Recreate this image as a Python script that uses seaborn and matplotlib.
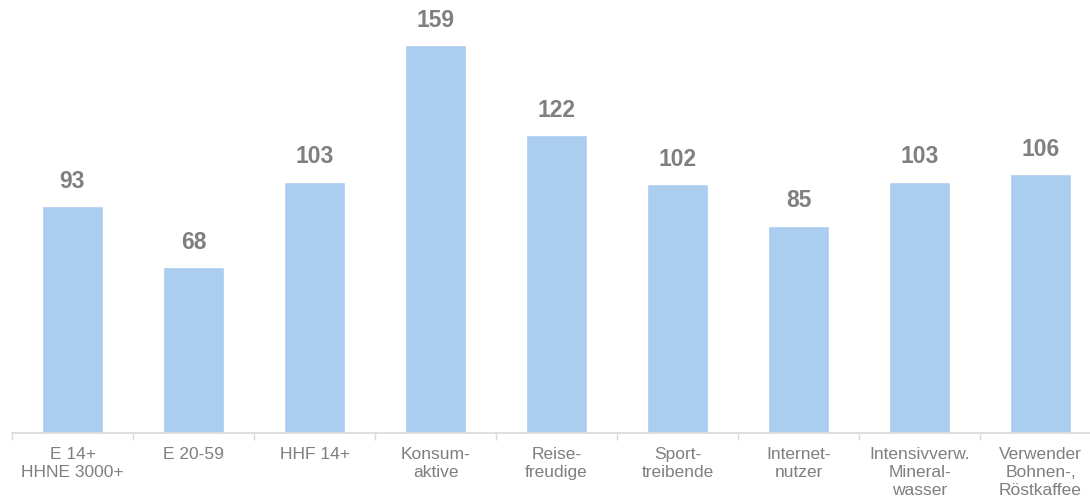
import matplotlib
matplotlib.use("Agg")
import matplotlib.pyplot as plt
import seaborn as sns
import pandas as pd
import numpy as np

# --- DATA ---
categories = [
    "E 14+\nHHNE 3000+", "E 20-59", "HHF 14+", "Konsum-\naktive", "Reise-\nfreudige",
    "Sport-\ntreibende", "Internet-\nnutzer", "Intensivverw.\nMineral-\nwasser",
    "Verwender\nBohnen-,\nRöstkaffee",
]
values = [93, 68, 103, 159, 122, 102, 85, 103, 106]

df = pd.DataFrame({"cat": categories, "val": values})

sns.set_style("white")
plt.rcParams['font.family'] = ['Liberation Sans', 'DejaVu Sans']

fig = plt.figure(figsize=(10.9, 5.04), dpi=100)
ax = fig.add_axes([12 / 1090, 71 / 504, 1089 / 1090, 433 / 504])

sns.barplot(data=df, x="cat", y="val", color="#ABCDEF", saturation=1,
            width=0.5, ax=ax)

for i, v in enumerate(values):
    ax.text(i, v + 5.5, str(v), ha="center", va="bottom", fontsize=16.5,
            fontweight="bold", color="#7F7F7F")

ax.set_xlim(-0.5, len(categories) - 0.5)
ax.set_ylim(0, 177.5)
ax.set_xlabel("")
ax.set_ylabel("")
ax.set_yticks([])

for s in ["top", "right", "left"]:
    ax.spines[s].set_visible(False)
ax.spines["bottom"].set_color("#D9D9D9")
ax.spines["bottom"].set_linewidth(1.2)

ax.set_xticks(np.arange(-0.5, len(categories)), minor=True)
ax.tick_params(axis="x", which="minor", length=5, width=1, color="#D9D9D9", bottom=True)
ax.tick_params(axis="x", which="major", length=0, pad=10, labelsize=12.5,
               labelcolor="#7F7F7F")
for lbl in ax.get_xticklabels():
    lbl.set_linespacing(1.25)

fig.savefig("out.png", dpi=100)
